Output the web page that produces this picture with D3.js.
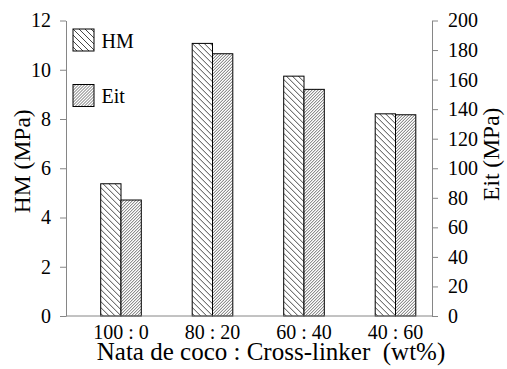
<!DOCTYPE html>
<head>
  <meta charset="UTF-8">
  <style>
    *{ margin: 0px; }
    body{ background-color: white; }
    svg{ position: absolute; }
  </style>
  <script src="https://d3js.org/d3.v7.min.js"></script>
</head>
<body>
  <svg id="chart" width="507" height="369"></svg>

  <script>
    var categories = ["100 : 0", "80 : 20", "60 : 40", "40 : 60"];
    var hmValues = [5.37, 11.07, 9.74, 8.21];
    var eitValues = [78.5, 177.5, 153.4, 136.2];
    var hmTicks = [0, 2, 4, 6, 8, 10, 12];
    var eitTicks = [0, 20, 40, 60, 80, 100, 120, 140, 160, 180, 200];
    var series = ["HM", "Eit"];

    var font = "Liberation Serif";
    var svg = d3.select("#chart");
    var plotLeft = 66, plotRight = 432, plotTop = 20.5, plotBottom = 316;

    var defs = svg.append("defs");
    // wide "\" hatch for HM
    defs.append("pattern")
      .attr("id", "hatch-hm")
      .attr("patternUnits", "userSpaceOnUse")
      .attr("width", 6).attr("height", 6)
      .call(p => {
        p.append("rect").attr("width", 6).attr("height", 6).attr("fill", "white");
        p.append("path").attr("d", "M0,0L6,6M-1,5L1,7M5,-1L7,1")
          .attr("stroke", "#333").attr("stroke-width", 0.9);
      });
    // dense "/" hatch for Eit
    defs.append("pattern")
      .attr("id", "hatch-eit")
      .attr("patternUnits", "userSpaceOnUse")
      .attr("width", 3).attr("height", 3)
      .call(p => {
        p.append("rect").attr("width", 3).attr("height", 3).attr("fill", "white");
        p.append("path").attr("d", "M0,3L3,0M-1,1L1,-1M2,4L4,2")
          .attr("stroke", "#444").attr("stroke-width", 0.8);
      });

    var x = d3.scaleBand().domain(categories).range([75.25, 441.25]);
    var xs = d3.scaleBand().domain(series).range([0, x.bandwidth()])
      .paddingInner(0).paddingOuter(1.254);
    var yL = d3.scaleLinear().domain([0, 12]).range([plotBottom, plotTop]);
    var yR = d3.scaleLinear().domain([0, 200]).range([plotBottom, plotTop]);

    var fills = {HM: "url(#hatch-hm)", Eit: "url(#hatch-eit)"};

    var rows = categories.map((c, i) => ({cat: c, HM: hmValues[i], Eit: eitValues[i]}));

    var groups = svg.append("g").selectAll("g")
      .data(rows).enter().append("g")
      .attr("transform", d => "translate(" + x(d.cat) + ",0)");

    groups.append("rect")
      .attr("x", xs("HM")).attr("width", xs.bandwidth())
      .attr("y", d => yL(d.HM)).attr("height", d => yL(0) - yL(d.HM))
      .attr("fill", fills.HM).attr("stroke", "black").attr("stroke-width", 1);

    groups.append("rect")
      .attr("x", xs("Eit")).attr("width", xs.bandwidth())
      .attr("y", d => yR(d.Eit)).attr("height", d => yR(0) - yR(d.Eit))
      .attr("fill", fills.Eit).attr("stroke", "black").attr("stroke-width", 1);

    function styleAxis(g){
      g.selectAll("path, line").attr("stroke", "#868686");
      g.selectAll("text")
        .style("font-family", font).style("font-size", "20px").attr("fill", "black");
    }

    // axes
    svg.append("g")
      .attr("transform", "translate(" + plotLeft + ",0)")
      .call(d3.axisLeft(yL).tickValues(hmTicks).tickSize(6).tickSizeOuter(0).tickPadding(9))
      .call(styleAxis);

    svg.append("g")
      .attr("transform", "translate(" + plotRight + ",0)")
      .call(d3.axisRight(yR).tickValues(eitTicks).tickSize(6).tickSizeOuter(0).tickPadding(10))
      .call(styleAxis);

    var xAxis = svg.append("g")
      .attr("transform", "translate(0," + plotBottom + ")")
      .call(d3.axisBottom(x).tickSize(0).tickPadding(9))
      .call(styleAxis);
    xAxis.select(".domain").remove();
    xAxis.append("line")
      .attr("x1", plotLeft).attr("x2", plotRight).attr("y1", 0).attr("y2", 0)
      .attr("stroke", "#868686");

    // axis titles
    svg.append("text")
      .attr("transform", "translate(30," + ((plotTop + plotBottom) / 2 - 7) + ") rotate(-90)")
      .attr("text-anchor", "middle")
      .style("font-family", font).style("font-size", "23.5px")
      .text("HM (MPa)");

    svg.append("text")
      .attr("transform", "translate(499," + ((plotTop + plotBottom) / 2 - 14) + ") rotate(-90)")
      .attr("text-anchor", "middle")
      .style("font-family", font).style("font-size", "23.5px")
      .text("Eit (MPa)");

    svg.append("text")
      .attr("x", (97 + 445) / 2).attr("y", 360)
      .attr("text-anchor", "middle")
      .style("font-family", font).style("font-size", "25px")
      .style("white-space", "pre")
      .text("Nata de coco : Cross-linker  (wt%)");

    // legend
    var legend = svg.append("g").attr("transform", "translate(73,29)");
    var item = legend.selectAll("g").data(series).enter().append("g")
      .attr("transform", (d, i) => "translate(0," + i * 55.5 + ")");
    item.append("rect")
      .attr("width", 21).attr("height", 22)
      .attr("fill", d => fills[d]).attr("stroke", "black").attr("stroke-width", 1);
    item.append("text")
      .attr("x", 28.5).attr("y", 18.5)
      .style("font-family", font).style("font-size", "20px")
      .text(d => d);
  </script>
</body>
